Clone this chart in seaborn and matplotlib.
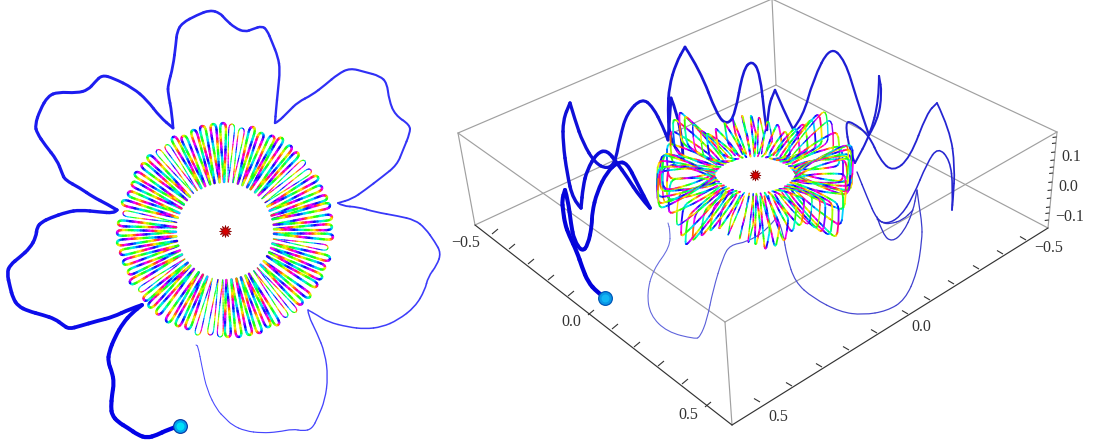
import numpy as np
import seaborn as sns
import matplotlib
matplotlib.use("Agg")
import matplotlib.pyplot as plt
from matplotlib.collections import LineCollection
from matplotlib.colors import to_rgb
from matplotlib.patches import PathPatch
from matplotlib.path import Path

sns.set_theme(style="white")
plt.rcParams["font.family"] = ["Liberation Serif", "DejaVu Serif"]

centre_x, centre_y = 225, 231
ball_left = (180, 425.5)
ball_right = (605, 298)
star_right = (755, 175)

left_trail_x = [180, 167, 157, 147, 138, 128, 118, 112, 111, 112, 114, 112, 108, 109, 115, 123, 132, 142,
                130, 113, 97, 80, 69, 63, 55, 43, 28, 18, 13, 10, 7, 10, 20, 30, 36, 37, 42, 50, 67, 80, 100, 113, 117,
                107, 93, 80, 65, 62, 57, 45, 37, 35, 40, 48, 58, 77, 88, 95, 102, 113, 133, 147, 160, 173,
                172, 168, 168, 173, 176, 177, 182, 197, 210, 220, 225, 235, 245, 253, 262, 267, 272, 278, 280, 278, 276, 275,
                278, 288, 298, 312, 325, 338, 350, 365, 380, 387, 389, 395, 410, 410, 403, 397, 382, 365, 352, 338,
                342, 358, 375, 398, 415, 425, 435, 441, 437, 428, 425, 415, 398, 382, 365, 348, 328, 317, 308,
                308, 317, 325, 328, 325, 318, 312, 303, 293, 278, 262, 245, 232, 225, 217, 207, 202, 198, 196]
left_trail_y = [425.5, 430, 435, 438, 435, 428, 422, 415, 407, 395, 383, 372, 362, 352, 337, 323, 313, 305,
                309, 317, 321, 326, 329, 325, 319, 315, 311, 306, 298, 287, 273, 265, 257, 248, 237, 227, 222, 218, 212, 210, 212, 213, 210,
                204, 197, 188, 180, 173, 160, 145, 133, 125, 110, 96, 92, 93, 90, 82, 75, 78, 88, 100, 117, 128,
                113, 93, 85, 67, 43, 32, 23, 15, 10, 13, 19, 28, 32, 29, 26, 30, 42, 57, 70, 90, 110, 123,
                122, 112, 102, 95, 85, 74, 68, 72, 76, 83, 100, 115, 125, 133, 150, 165, 177, 190, 199, 203,
                206, 207, 212, 216, 220, 228, 242, 253, 265, 277, 290, 307, 320, 327, 329, 327, 322, 315, 310,
                315, 333, 353, 377, 400, 417, 429, 431, 429, 432, 433, 431, 425, 418, 410, 390, 367, 346, 345]

right_trail_x = [605, 597, 588, 582, 577, 569, 565, 563, 562, 565, 568, 571, 574, 582, 588, 592, 592, 597, 607, 618, 627, 637, 650,
                 640, 627, 617, 607, 597, 587, 583, 581, 573, 567, 563, 563, 570, 575, 583, 595, 607, 615, 620, 627, 642, 653, 663, 668,
                 671, 677, 682, 683, 676, 669, 668, 669, 676, 685, 700, 717, 727, 735, 743, 752, 760, 765, 767,
                 768, 775, 785, 793, 803, 813, 830, 845, 857, 869, 878, 882, 879, 879, 870, 855,
                 850, 845, 852, 869, 880, 893, 910, 927, 937, 950, 955, 953, 952,
                 953, 950, 938, 927, 913, 900, 887, 877, 867, 857]
right_trail_y = [298, 292, 282, 267, 252, 235, 224, 210, 200, 190, 200, 224, 240, 252, 245, 225, 213, 192, 172, 162, 163, 183, 208,
                 197, 177, 163, 150, 153, 170, 187, 208, 200, 173, 143, 120, 103, 120, 143, 163, 169, 163, 137, 113, 98, 107, 127, 140,
                 98, 113, 140, 158, 150, 133, 110, 87, 63, 47, 70, 115, 125, 115, 70, 60, 73, 120, 130,
                 107, 90, 113, 129, 117, 80, 46, 60, 100, 135, 120, 93, 76, 100, 135, 163,
                 152, 122, 122, 135, 160, 172, 158, 113, 103, 130, 167, 200, 210,
                 187, 160, 147, 163, 197, 217, 224, 220, 197, 172]
right_tail_x = [877, 883, 892, 903, 913, 917, 919, 922, 922, 917, 905, 887, 863, 840, 813, 795, 787, 783, 777,
                767, 747, 730, 723, 713, 707, 700, 695, 667, 650, 647, 653, 670, 670, 668]
right_tail_y = [217, 235, 242, 233, 212, 190, 205, 224, 240, 273, 300, 311, 315, 312, 298, 282, 257, 233, 217,
                230, 242, 245, 257, 290, 320, 337, 339, 332, 315, 293, 270, 247, 230, 223]
right_arc_x = [877, 882, 890, 903, 913]
right_arc_y = [219, 223, 224, 220, 210]

# tips of the coloured loops, going round from the left
loop_tip_x = [123, 122, 128, 132, 135, 142, 148, 157, 166, 173, 183, 193, 202, 213, 223, 232, 242, 253, 262, 273, 282,
              291, 298, 305, 311, 318, 322, 327, 330, 332, 332, 333, 328, 330, 325, 322, 317, 310, 302, 296, 287, 278,
              269, 260, 250, 239, 228, 220, 210, 197, 187, 177, 167, 157, 149, 144, 139, 130, 128, 123, 120, 117, 117, 118]
loop_tip_y = [213, 202, 193, 183, 173, 164, 156, 150, 145, 137, 136, 130, 126, 124, 123, 124, 128, 127, 133, 136, 138,
              146, 153, 161, 170, 177, 187, 197, 205, 217, 227, 237, 248, 259, 268, 278, 286, 297, 304, 312, 317, 325,
              327, 333, 335, 337, 337, 337, 335, 335, 329, 326, 322, 314, 307, 300, 291, 283, 273, 263, 253, 243, 233, 223]
loop_thin = [1, 0, 0, 0, 0, 0, 0, 1, 1, 0, 0, 0, 0, 0, 0, 1, 1, 0, 0, 0, 0,
             0, 0, 1, 1, 0, 0, 0, 0, 0, 0, 0, 1, 0, 0, 0, 0, 0, 0, 1, 1, 0,
             0, 0, 0, 0, 0, 1, 1, 1, 0, 0, 0, 0, 0, 0, 1, 0, 0, 0, 0, 0, 0, 0]
# one loop, base to tip: share of the length and half width
loop_share = [0, .05, .1, .15, .2, .25, .3, .35, .4, .45, .5, .55, .6, .65, .7, .75, .8, .85, .9, .94, .97, .99, 1]
loop_half = [.05, .1, .16, .22, .28, .34, .4, .46, .52, .58, .64, .69, .74, .79, .84, .89, .93, .97, 1, .95, .8, .5, 0]
# height of the loop tips seen in the tilted view
loop_lift = [-20, -12, -4, 6, 16, 22, 14, 2, -10]

box_vertices = {"back_top": (772, -1), "left_top": (458, 133), "right_top": (1057, 132), "front_top": (725, 322),
                "back_low": (776, 85), "left_low": (475, 225), "right_low": (1048, 228), "front_low": (732, 425)}
grey_edges = [("back_top", "left_top"), ("back_top", "right_top"), ("left_top", "front_top"), ("right_top", "front_top"),
              ("back_top", "back_low"), ("left_top", "left_low"), ("right_top", "right_low"), ("front_top", "front_low"),
              ("back_low", "left_low"), ("back_low", "right_low")]
dark_edges = [("left_low", "front_low"), ("right_low", "front_low")]

x_tick_x = [492, 509, 528, 548, 568, 588, 612, 634, 658, 682, 705]
x_tick_y = [234, 249, 264, 280, 296, 315, 329, 347, 366, 384, 407]
y_tick_x = [1026, 1003, 979, 954, 930, 908, 877, 849, 822, 792, 760]
y_tick_y = [240, 254, 269, 284, 300, 314, 333, 350, 367, 386, 402]
z_tick_y = [137, 143, 152, 160, 167, 173, 182, 190, 198, 207, 213, 220]

tick_labels = ["\u22120.5", "0.0", "0.5", "0.0", "\u22120.5", "0.5", "0.1", "0.0", "\u22120.1"]
label_x = [466, 571, 688, 921, 1049, 778, 1071, 1068, 1070]
label_y = [243, 322, 415, 327, 248, 417, 157, 187, 217]

fig = plt.figure(figsize=(10.93, 4.45), dpi=100)
ax_l = fig.add_axes([0, 0, 450 / 1093, 1])
ax_r = fig.add_axes([450 / 1093, 0, 643 / 1093, 1])
ax_l.set_xlim(0, 450)
ax_r.set_xlim(450, 1093)
for ax in (ax_l, ax_r):
    ax.set_ylim(445, 0)
    ax.axis("off")

hues = sns.color_palette("hsv", 12)


def draw_trail(ax, xs, ys, w0, w1, c0, c1):
    # the read points act as bezier handles so the line stays round,
    # sharp turns are kept as corners. The line thins out along the way.
    pts = [np.array(p, dtype=float) for p in zip(xs, ys)]
    n = len(pts)
    c0 = np.array(to_rgb(c0))
    c1 = np.array(to_rgb(c1))
    start = pts[0]
    for i in range(1, n - 1):
        a = pts[i] - pts[i - 1]
        b = pts[i + 1] - pts[i]
        cosang = np.dot(a, b) / (np.linalg.norm(a) * np.linalg.norm(b))
        end = pts[i] if cosang < -0.3 else (pts[i] + pts[i + 1]) / 2
        t = i / (n - 1)
        path = Path([start, pts[i], end], [Path.MOVETO, Path.CURVE3, Path.CURVE3])
        ax.add_patch(PathPatch(path, fc="none", ec=c0 + (c1 - c0) * t, lw=w0 + (w1 - w0) * t,
                               capstyle="round", joinstyle="round", zorder=3))
        start = end
    ax.add_patch(PathPatch(Path([start, pts[-1]]), fc="none", ec=c1, lw=w1, capstyle="round", zorder=3))


def draw_loop(ax, px, py, i, lw):
    # up one side and back down the other, the colours run through the rainbow
    xy = np.concatenate([np.column_stack([px[0], py[0]]), np.column_stack([px[1], py[1]])[::-1]])
    segs = np.stack([xy[:-1], xy[1:]], axis=1)
    cols = [hues[(k + i * 5) % len(hues)] for k in range(len(segs))]
    ax.add_collection(LineCollection(segs, colors=cols, linewidths=lw, capstyle="round", zorder=4))


share = np.array(loop_share)
half = np.array(loop_half)

for i, (tx, ty) in enumerate(zip(loop_tip_x, loop_tip_y)):
    dx, dy = tx - centre_x, centre_y - ty
    reach = np.hypot(dx, dy)
    ang = np.arctan2(dy, dx)
    c, s = np.cos(ang), np.sin(ang)
    thin = loop_thin[i]

    # flat view
    r = 49 + (reach - 49) * share
    w = half * 2.9
    px = [centre_x + r * c - w * s, centre_x + r * c + w * s]
    py = [centre_y - r * s - w * c, centre_y - r * s + w * c]
    draw_loop(ax_l, px, py, i, 0.8 if thin else 1.7)

    # tilted view, the near side reaches a bit further down than the far side up
    rx = 41 + (98 * reach / 108 - 41) * share
    ry = 20 + ((54 - 7 * s) * reach / 108 - 20) * share
    z = half ** 0.6 * (8 + 10 * abs(c))
    lift = loop_lift[i % len(loop_lift)] * share * (0.25 + 0.75 * abs(c))
    px = [star_right[0] + rx * c - half * 2.5 * s, star_right[0] + rx * c + half * 2.5 * s]
    py = [star_right[1] - ry * s - lift - z, star_right[1] - ry * s - lift + z]
    draw_loop(ax_r, px, py, i, 1.0 if thin else 1.3)

draw_trail(ax_l, left_trail_x, left_trail_y, 3.1, 0.7, "#0000e6", "#4a4aff")
draw_trail(ax_r, right_trail_x, right_trail_y, 3.1, 1.0, "#0000dc", "#2a2ad0")
draw_trail(ax_r, right_tail_x, right_tail_y, 0.95, 0.75, "#3030c8", "#6a70e0")
draw_trail(ax_r, right_arc_x, right_arc_y, 0.9, 0.9, "#3030c8", "#3030c8")

# centre stars
ax_l.scatter([centre_x], [centre_y], marker=(12, 1, 0), s=75, c="#d40000", edgecolors="#8a0000", linewidths=0.5, zorder=6)
ax_r.scatter([star_right[0]], [star_right[1]], marker=(12, 1, 0), s=62, c="#d40000", edgecolors="#8a0000", linewidths=0.5, zorder=6)

# balls, a few discs on top of each other for the shading
for ax, pos, shades in [(ax_l, ball_left, ["#0a3fa8", "#00a6ee", "#00e0f8"]),
                        (ax_r, ball_right, ["#0058b8", "#0a97e6", "#12b6f4"])]:
    for d, col in zip([15, 12.5, 8], shades):
        ax.scatter([pos[0]], [pos[1]], s=(d * 0.72) ** 2, c=col, linewidths=0, zorder=7)

# the box
for edges, col, lw in [(grey_edges, "#a0a0a0", 0.85), (dark_edges, "#333333", 0.85)]:
    for a, b in edges:
        xa, ya = box_vertices[a]
        xb, yb = box_vertices[b]
        sns.lineplot(x=[xa, xb], y=[ya, yb], ax=ax_r, sort=False, estimator=None, color=col, lw=lw, zorder=2)
ax_r.set_xlabel("")
ax_r.set_ylabel("")

ticks = [[(x, y), (x + 6, y - 5)] for x, y in zip(x_tick_x, x_tick_y)]
ticks += [[(x, y), (x - 6, y - 3.5)] for x, y in zip(y_tick_x, y_tick_y)]
z_edge = np.interp(z_tick_y, [132, 228], [1057, 1048])
ticks += [[(x, y), (x - 4, y + 0.5)] for x, y in zip(z_edge, z_tick_y)]
ax_r.add_collection(LineCollection(ticks, colors="#333333", linewidths=0.8, zorder=2))

for lab, x, y in zip(tick_labels, label_x, label_y):
    ax_r.text(x, y, lab, fontsize=11.5, color="#333333", ha="center", va="center", zorder=8)

fig.savefig("out.png", dpi=100)
